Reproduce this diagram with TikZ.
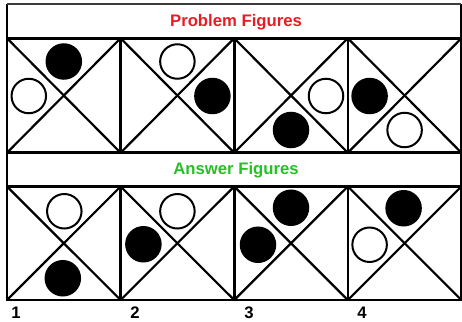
\documentclass[tikz,border=0pt]{standalone}
\usepackage{fontspec}
\setmainfont{Liberation Sans}
\usetikzlibrary{calc}
\definecolor{titlered}{RGB}{232,28,36}
\definecolor{titlegreen}{RGB}{38,192,38}
\definecolor{topgray}{RGB}{60,60,60}
\begin{document}
\begin{tikzpicture}[x=1pt,y=-1pt,
  frame/.style={draw=black,line width=2.6pt,inner sep=0pt,outer sep=0pt},
  panel/.style={frame,minimum width=113.6pt,minimum height=114.5pt},
  band/.style={frame,minimum width=454.4pt,minimum height=34pt},
  diag/.style={line width=2.2pt},
  topedge/.style={draw=topgray,line width=2pt},
  wdot/.style={circle,draw=black,fill=white,line width=2pt,minimum size=34.5pt,inner sep=0pt,outer sep=0pt},
  bdot/.style={wdot,fill=black},
  title/.style={font=\fontsize{16.7}{20}\selectfont\bfseries},
  num/.style={font=\fontsize{16.7}{20}\selectfont\bfseries}]
\useasboundingbox (0,0) rectangle (462,321);
% title bands
\node[band,draw=none] (pband) at (234.2,21) {};
\draw[frame] (pband.north west) -- (pband.south west);
\draw[frame] (pband.north east) -- (pband.south east);
\draw[topedge] (pband.north west) -- (pband.north east);
\node[title,text=titlered] (ptitle) at (236,22) {Problem Figures};
\node[band,minimum height=33.5pt] (aband) at (234.2,169.75) {};
\node[title,text=titlegreen] (atitle) at (236,170) {Answer Figures};
% problem and answer panels
\foreach \i in {1,...,4}{
  \node[panel] (p\i) at ({7+56.8+113.6*(\i-1)},95.5) {};
  \draw[diag] (p\i.north west) -- (p\i.south east);
  \draw[diag] (p\i.north east) -- (p\i.south west);
  \node[panel,minimum height=113.5pt] (a\i) at ({7+56.8+113.6*(\i-1)},243.25) {};
  \draw[diag] (a\i.north west) -- (a\i.south east);
  \draw[diag] (a\i.north east) -- (a\i.south west);
}
% problem figure circles
\node[bdot] (p1b) at ($(p1.center)+(0,-34)$) {};
\node[wdot] (p1w) at ($(p1.center)+(-35,0.5)$) {};
\node[wdot] (p2w) at ($(p2.center)+(0,-34)$) {};
\node[bdot] (p2b) at ($(p2.center)+(35,0.5)$) {};
\node[wdot] (p3w) at ($(p3.center)+(35,0.5)$) {};
\node[bdot] (p3b) at ($(p3.center)+(0,34.5)$) {};
\node[bdot] (p4b) at ($(p4.center)+(-35,0.5)$) {};
\node[wdot] (p4w) at ($(p4.center)+(0,34.5)$) {};
% answer figure circles
\node[wdot] (a1w) at ($(a1.center)+(0.5,-32)$) {};
\node[bdot] (a1b) at ($(a1.center)+(-1,35)$) {};
\node[wdot] (a2w) at ($(a2.center)+(0,-32)$) {};
\node[bdot] (a2b) at ($(a2.center)+(-34,1)$) {};
\node[bdot] (a3t) at ($(a3.center)+(0,-35.5)$) {};
\node[bdot] (a3l) at ($(a3.center)+(-33,1.5)$) {};
\node[bdot] (a4b) at ($(a4.center)+(-1,-35)$) {};
\node[wdot] (a4w) at ($(a4.center)+(-35,1.5)$) {};
% labels
\node[num] (n1) at (16,313) {1};
\node[num] (n2) at (135,313) {2};
\node[num] (n3) at (249,313) {3};
\node[num] (n4) at (362,313) {4};
\end{tikzpicture}
\end{document}
